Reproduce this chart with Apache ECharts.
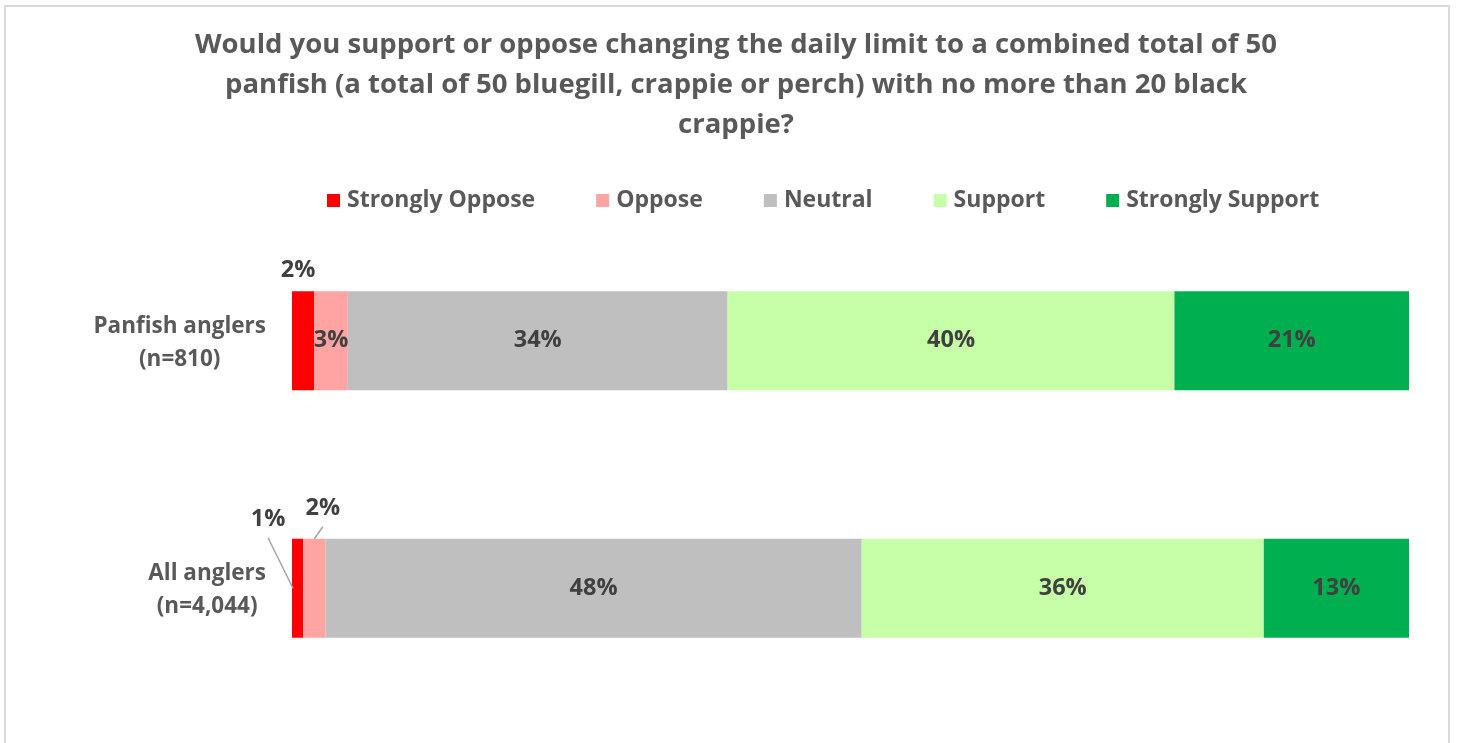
<!DOCTYPE html>
<html>
<head>
<meta charset="utf-8">
<script src="https://cdn.jsdelivr.net/npm/echarts@6/dist/echarts.min.js"></script>
<style>
  html, body { margin: 0; padding: 0; background: #fff; }
  #frame { position: absolute; left: 4px; top: 5px; width: 1446px; height: 760px; border: 2px solid #d9d9d9; box-sizing: border-box; }
  #chart { position: absolute; left: 0; top: 0; width: 1458px; height: 743px; }
</style>
</head>
<body>
<div id="frame"></div>
<div id="chart"></div>
<script>
// Survey response shares (%), one array per answer level
const categories = ['Panfish anglers\n(n=810)', 'All anglers\n(n=4,044)'];
const levels = ['Strongly Oppose', 'Oppose', 'Neutral', 'Support', 'Strongly Support'];
const stronglyOppose = [2, 1];
const oppose = [3, 2];
const neutral = [34, 48];
const support = [40, 36];
const stronglySupport = [21, 13];
const colors = ['#ff0000', '#ffa3a3', '#bfbfbf', '#c6ffa7', '#00b050'];

const FONT = '"Open Sans", "DejaVu Sans", sans-serif';
const TEXT = '#595959';
const LABEL_SIZE = 23.5;
const BAR_RATIO = 0.4;

const seriesData = [stronglyOppose, oppose, neutral, support, stronglySupport];

// Segments too thin for an inside label: the label sits above the bar,
// placed relative to the segment rectangle.
const outsideLabels = {
  '0-0': r => [r.x + 6, r.y - 21],
  '0-1': r => [r.x - 24, r.y - 19],
  '1-1': r => [r.x + r.width / 2 + 8.5, r.y - 30]
};

// Guide lines joining those labels to their segments: [series, category]
const guides = [[0, 1], [1, 1]];
const guidePath = {
  '0-1': r => [[r.x - 24, r.y - 1], [r.x + 1, r.y + r.height / 2]],
  '1-1': r => [[r.x + r.width / 2 + 8.5, r.y - 12], [r.x + r.width / 2, r.y]]
};

const series = seriesData.map((vals, si) => ({
  name: levels[si],
  type: 'bar',
  stack: 'total',
  barWidth: (BAR_RATIO * 100) + '%',
  itemStyle: { color: colors[si] },
  label: {
    show: true,
    position: 'inside',
    formatter: '{c}%',
    fontFamily: FONT,
    fontWeight: 'bold',
    fontSize: LABEL_SIZE,
    color: '#404040'
  },
  data: vals.map((v, di) =>
    outsideLabels[si + '-' + di] ? { value: v, label: { position: 'top' } } : v
  ),
  labelLayout: function (p) {
    const f = outsideLabels[p.seriesIndex + '-' + p.dataIndex];
    if (!f) return {};
    const [x, y] = f(p.rect);
    return { x: x, y: y, align: 'center', verticalAlign: 'middle' };
  }
}));

// Leader lines, positioned from the stacked segment extents on the axes
series.push({
  type: 'custom',
  silent: true,
  z: 5,
  encode: { x: 0, y: 1 },
  data: guides,
  renderItem: function (params, api) {
    const [s, c] = guides[params.dataIndex];
    let start = 0;
    for (let k = 0; k < s; k++) start += seriesData[k][c];
    const end = start + seriesData[s][c];
    const p0 = api.coord([start, c]);
    const p1 = api.coord([end, c]);
    const h = api.size([0, 1])[1] * BAR_RATIO;
    const rect = { x: p0[0], y: p0[1] - h / 2, width: p1[0] - p0[0], height: h };
    return {
      type: 'polyline',
      shape: { points: guidePath[s + '-' + c](rect) },
      style: { stroke: '#a6a6a6', lineWidth: 1.5, fill: null }
    };
  }
});

const chart = echarts.init(document.getElementById('chart'), null, { renderer: 'canvas' });
chart.setOption({
  backgroundColor: 'transparent',
  animation: false,
  title: {
    text: 'Would you support or oppose changing the daily limit to a combined total of 50\npanfish (a total of 50 bluegill, crappie or perch) with no more than 20 black\ncrappie?',
    left: 731,
    top: 20,
    textAlign: 'center',
    textStyle: {
      fontFamily: FONT,
      fontWeight: 'bold',
      fontSize: 27.5,
      lineHeight: 40,
      color: TEXT,
      align: 'center'
    }
  },
  legend: {
    data: levels,
    left: 327,
    top: 189,
    padding: 0,
    itemWidth: 13,
    itemHeight: 13,
    itemGap: 61,
    icon: 'rect',
    textStyle: { fontFamily: FONT, fontWeight: 'bold', fontSize: 23, color: TEXT, padding: [0, 0, 0, 2] }
  },
  grid: { left: 292, right: 49, top: 217, bottom: 31, containLabel: false },
  xAxis: { type: 'value', min: 0, max: 100, show: false },
  yAxis: {
    type: 'category',
    inverse: true,
    data: categories,
    axisLine: { show: false },
    axisTick: { show: false },
    axisLabel: {
      margin: 26,
      formatter: function (v) {
        return v.split('\n').map(s => '{a|' + s + '}').join('\n');
      },
      rich: {
        a: { fontFamily: FONT, fontWeight: 'bold', fontSize: 22.5, color: TEXT, align: 'center', lineHeight: 33, padding: [4, 0, 0, 0] }
      }
    }
  },
  series: series
});
</script>
</body>
</html>
